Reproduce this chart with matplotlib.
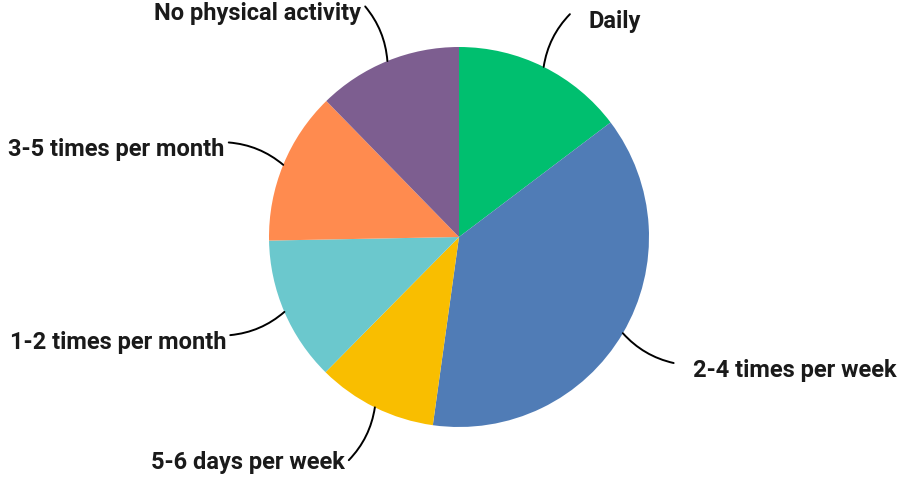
import matplotlib
matplotlib.use("Agg")
import matplotlib.pyplot as plt
import numpy as np

categories = ["Daily", "2-4 times per week", "5-6 days per week",
              "1-2 times per month", "3-5 times per month", "No physical activity"]
values = [14.7, 37.5, 10.2, 12.3, 13.0, 12.3]
colors = ["#00BF6F", "#507CB6", "#F9BE00", "#6BC8CD", "#FF8B4F", "#7D5E90"]

W, H = 904, 478
cx, cy, R = 459, 237, 190

fig = plt.figure(figsize=(W / 100, H / 100), dpi=100)
ax = fig.add_axes([0, 0, 1, 1])
wedges, _ = ax.pie(values, colors=colors, startangle=90, counterclock=False,
                   radius=1, center=(0, 0), wedgeprops=dict(linewidth=0))
ax.set_xlim(-cx / R, (W - cx) / R)
ax.set_ylim(-(H - cy) / R, cy / R)
ax.set_aspect('equal')
ax.axis('off')

r_end = 1.31
for w, lab in zip(wedges, categories):
    th = np.deg2rad((w.theta1 + w.theta2) / 2)
    ex, ey = np.cos(th), np.sin(th)
    tx, ty = r_end * np.cos(th), r_end * np.sin(th)
    rad = -0.16 * np.sign(ex * ey)
    ax.annotate("", xy=(tx, ty), xytext=(ex, ey),
                arrowprops=dict(arrowstyle='-', color='black', lw=1.4,
                                shrinkA=0, shrinkB=0,
                                connectionstyle=f'arc3,rad={rad}'))
    dy = 14 if ey > -0.8 else 9
    if ex >= 0:
        ax.text(tx + 19 / R, ty - dy / R, lab, ha='left', va='baseline',
                fontsize=17, fontweight='bold', family='Roboto', color='#1a1a1a')
    else:
        ax.text(tx - 4 / R, ty - dy / R, lab, ha='right', va='baseline',
                fontsize=17, fontweight='bold', family='Roboto', color='#1a1a1a')

fig.savefig("out.png", dpi=100)
